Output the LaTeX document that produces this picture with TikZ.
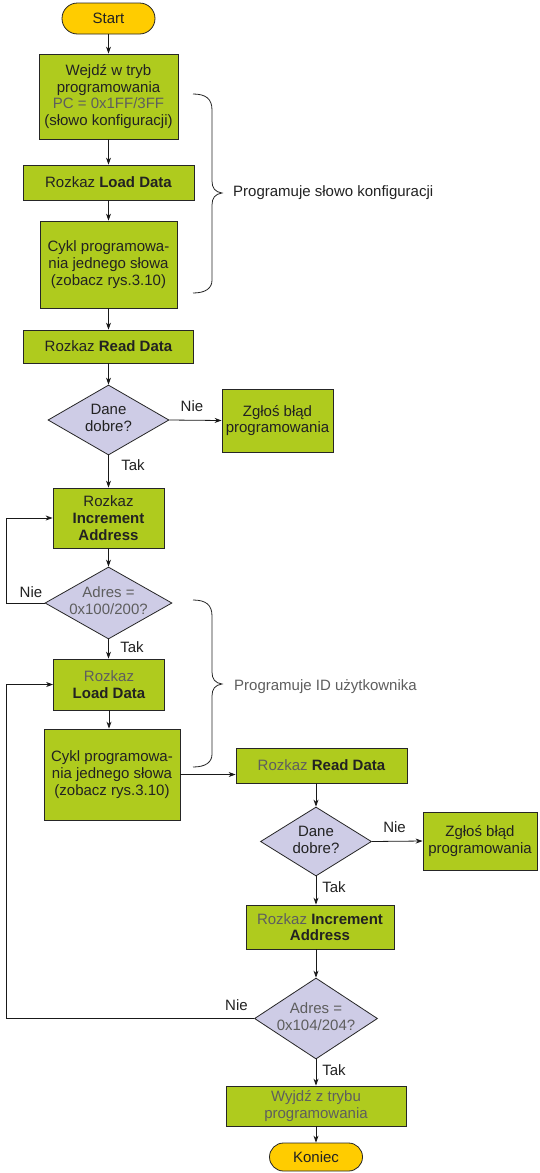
\documentclass[tikz,border=0pt]{standalone}
\usepackage{fontspec}
\setmainfont{Liberation Sans}
\usetikzlibrary{arrows.meta,shapes.geometric,shapes.misc}
\definecolor{boxgreen}{HTML}{AFCB1E}
\definecolor{termyellow}{HTML}{FFCC00}
\definecolor{declav}{HTML}{CECCE6}
\definecolor{txt}{HTML}{222222}
\definecolor{gtxt}{HTML}{5E5E5E}
\newcommand{\myfs}{\fontsize{15}{16.7}\selectfont}
\newcommand{\dtxt}[1]{\makebox[0pt]{\begin{tabular}{@{}c@{}}#1\end{tabular}}}
\tikzset{
  base/.style={draw=black!85, line width=0.8pt, font=\myfs, text=txt, align=center, inner sep=2pt},
  box/.style={base, rectangle, fill=boxgreen},
  term/.style={base, rounded rectangle, fill=termyellow},
  dec/.style={base, diamond, fill=declav, inner sep=0pt},
  lbl/.style={font=\myfs, text=txt, inner sep=0pt},
  arr/.style={-{Stealth[length=7pt,width=5pt]}, line width=0.8pt, draw=black!90},
  conn/.style={line width=0.8pt, draw=black!85},
}
\begin{document}
\begin{tikzpicture}[x=1pt,y=-1pt]
\fill[white] (0,0) rectangle (539,1173);
\useasboundingbox (0,0) rectangle (539,1173);

% left column
\node[term, minimum width=97pt, minimum height=31pt] (start) at (108.5,18.5) {Start};
\node[box, minimum width=139pt, minimum height=85pt] (enter) at (108.5,96.5)
  {Wejdź w tryb\\programowania\\\textcolor{gtxt}{PC = 0x1FF/3FF}\\(słowo konfiguracji)};
\node[box, minimum width=171pt, minimum height=35pt] (ld1) at (108.5,182.5) {Rozkaz \textbf{Load Data}};
\node[box, minimum width=137pt, minimum height=87pt] (cyc1) at (108.5,264.5)
  {Cykl programowa-\\nia jednego słowa\\(zobacz rys.3.10)};
\node[box, minimum width=170pt, minimum height=33pt] (rd1) at (108.5,346.5) {Rozkaz \textbf{Read Data}};
\node[dec, minimum width=121pt, minimum height=70pt] (d1) at (108.5,420) {\dtxt{Dane\\dobre?}};
\node[box, minimum width=111pt, minimum height=63pt] (err1) at (277.5,420.5) {Zgłoś błąd\\programowania};
\node[box, minimum width=111pt, minimum height=60pt] (inc1) at (108.5,518) {Rozkaz\\\textbf{Increment}\\\textbf{Address}};
\node[dec, minimum width=127pt, minimum height=72pt] (d2) at (108.5,603)
  {\dtxt{\textcolor{gtxt}{Adres =}\\\textcolor{gtxt}{0x100/200?}}};
\node[box, minimum width=111pt, minimum height=51pt] (ld2) at (109,684.5) {\textcolor{gtxt}{Rozkaz}\\\textbf{Load Data}};
\node[box, minimum width=136pt, minimum height=91pt] (cyc2) at (112,774.5)
  {Cykl programowa-\\nia jednego słowa\\(zobacz rys.3.10)};

% right column
\node[box, minimum width=171pt, minimum height=35pt] (rd2) at (321.5,765.5) {\textcolor{gtxt}{Rozkaz} \textbf{Read Data}};
\node[dec, minimum width=111pt, minimum height=69pt] (d3) at (316,841.5) {\dtxt{Dane\\dobre?}};
\node[box, minimum width=114pt, minimum height=58pt] (err2) at (480,841) {Zgłoś błąd\\programowania};
\node[box, minimum width=148pt, minimum height=44pt] (inc2) at (320,927) {\textcolor{gtxt}{Rozkaz} \textbf{Increment}\\\textbf{Address}};
\node[dec, minimum width=123pt, minimum height=81pt] (d4) at (316,1018.5)
  {\dtxt{\textcolor{gtxt}{Adres =}\\\textcolor{gtxt}{0x104/204?}}};
\node[box, minimum width=180pt, minimum height=40pt] (exit) at (316,1106) {\textcolor{gtxt}{Wyjdź z trybu}\\\textcolor{gtxt}{programowania}};
\node[term, minimum width=97pt, minimum height=28pt] (end) at (316,1157) {Koniec};

% labels
\node[lbl] (nie1) at (192,406.5) {Nie};
\node[lbl] (tak1) at (133,465) {Tak};
\node[lbl] (nie2) at (31,592) {Nie};
\node[lbl] (tak2) at (132,647) {Tak};
\node[lbl] (nie3) at (394.5,827) {Nie};
\node[lbl] (tak3) at (334,887) {Tak};
\node[lbl] (nie4) at (236.5,1005) {Nie};
\node[lbl] (tak4) at (334,1070) {Tak};
\node[lbl, anchor=west] (brl1) at (233,193) {Programuje słowo konfiguracji};
\node[lbl, anchor=west, text=gtxt] (brl2) at (234,687) {Programuje ID użytkownika};

% arrows left column
\draw[arr] (start.south) -- (start.south |- enter.north);
\draw[arr] (enter.south) -- (enter.south |- ld1.north);
\draw[arr] (ld1.south) -- (ld1.south |- cyc1.north);
\draw[arr] (cyc1.south) -- (cyc1.south |- rd1.north);
\draw[arr] (rd1.south) -- (d1.north);
\draw[arr] (d1.east) -- (err1.west);
\draw[arr] (d1.south) -- (inc1.north);
\draw[arr] (inc1.south) -- (d2.north);
\draw[arr] (d2.west) -- ++(-38,0) |- (inc1.west);
\draw[arr] (d2.south) -- (d2.south |- ld2.north);
\draw[arr] (ld2.south) -- (ld2.south |- cyc2.north);
\draw[arr] (cyc2.east) -- (cyc2.east -| rd2.west);

% arrows right column
\draw[arr] (d3.north |- rd2.south) -- (d3.north);
\draw[arr] (d3.east) -- (err2.west);
\draw[arr] (d3.south) -- (d3.south |- inc2.north);
\draw[arr] (d4.north |- inc2.south) -- (d4.north);
\draw[arr] (d4.west) -- ++(-248,0) |- (ld2.west);
\draw[arr] (d4.south) -- (exit.north);
\draw[arr] (exit.south) -- (end.north);

% braces
\draw[conn] (193,94) .. controls (206,94) and (212,99) .. (212,110) -- (212,181)
  .. controls (212,188) and (215,192) .. (222,193)
  .. controls (215,194) and (212,198) .. (212,205) -- (212,280)
  .. controls (212,288) and (206,293) .. (193,293);
\draw[conn] (193,600) .. controls (206,600) and (212,605) .. (212,616) -- (212,672)
  .. controls (212,679) and (215,683) .. (222,684)
  .. controls (215,685) and (212,689) .. (212,696) -- (212,754)
  .. controls (212,762) and (206,767) .. (193,767);
\end{tikzpicture}
\end{document}
